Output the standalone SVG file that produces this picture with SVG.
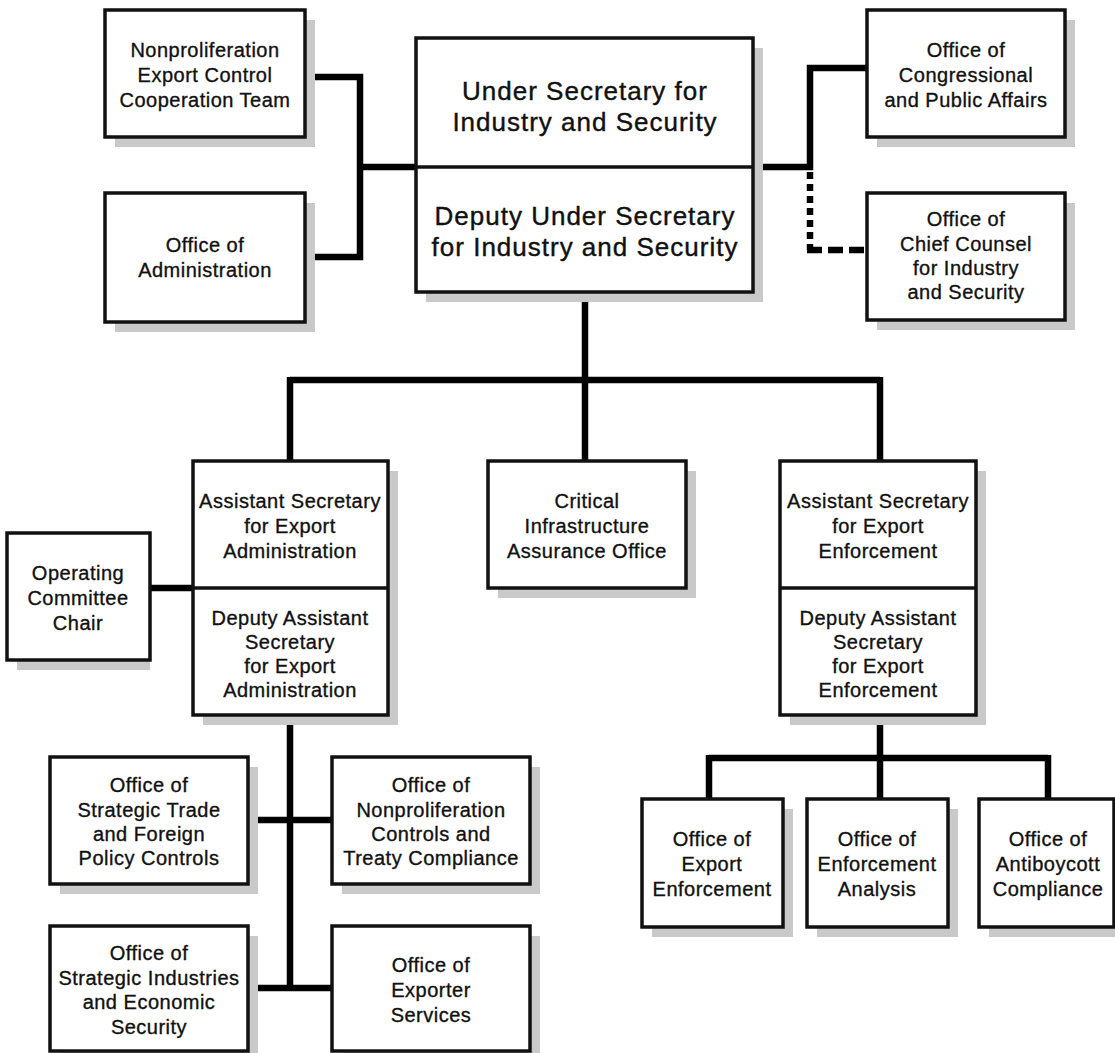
<svg xmlns="http://www.w3.org/2000/svg" width="1115" height="1053" viewBox="0 0 1115 1053">
<style>
.sh{fill:#c9c9c9}
.bx{fill:#fff;stroke:#111;stroke-width:3.5}
.dv{stroke:#111;stroke-width:3.5}
text{font-family:"Liberation Sans",Arial,Helvetica,sans-serif;font-size:20px;letter-spacing:0.5px;fill:#111;stroke:#111;stroke-width:0.35;text-anchor:middle}
text.big{font-size:26px;letter-spacing:1px;stroke-width:0.4}
.ln{fill:none;stroke:#000;stroke-width:6.5;stroke-linejoin:miter;stroke-linecap:butt}
</style>
<rect width="1115" height="1053" fill="#fff"/>
<g id="connectors">
<path class="ln" d="M305,77 H360 V257 H305 M360,167 H416"/>
<path class="ln" d="M753,167 H810 V68 H867"/>
<path class="ln" d="M810,172 V250" stroke-dasharray="7 5"/>
<path class="ln" d="M807,250 H867" stroke-dasharray="15 6"/>
<path class="ln" d="M585,292 V380 M290,380 H880 M290,377 V461 M585,380 V461 M880,377 V461"/>
<path class="ln" d="M150,588 H193"/>
<path class="ln" d="M290,715 V991 M248,820 H332 M248,988 H332"/>
<path class="ln" d="M880,715 V758 M709,758 H1048 M709,755 V799 M880,758 V799 M1048,755 V799"/>
</g>
<g id="nect"><rect class="sh" x="115" y="20" width="200" height="127"/><rect class="bx" x="105" y="10" width="200" height="127"/>
<text x="205" y="57">Nonproliferation</text><text x="205" y="82">Export Control</text><text x="205" y="107">Cooperation Team</text></g>
<g id="admin"><rect class="sh" x="115" y="203" width="200" height="129"/><rect class="bx" x="105" y="193" width="200" height="129"/>
<text x="205" y="252">Office of</text><text x="205" y="277">Administration</text></g>
<g id="main"><rect class="sh" x="426" y="48" width="337" height="254"/><rect class="bx" x="416" y="38" width="337" height="254"/>
<line class="dv" x1="416" y1="167" x2="753" y2="167"/>
<text class="big" x="585" y="100">Under Secretary for</text><text class="big" x="585" y="131">Industry and Security</text>
<text class="big" x="585" y="225">Deputy Under Secretary</text><text class="big" x="585" y="256">for Industry and Security</text></g>
<g id="congress"><rect class="sh" x="877" y="20" width="198" height="127"/><rect class="bx" x="867" y="10" width="198" height="127"/>
<text x="966" y="57">Office of</text><text x="966" y="82">Congressional</text><text x="966" y="107">and Public Affairs</text></g>
<g id="counsel"><rect class="sh" x="877" y="203" width="198" height="127"/><rect class="bx" x="867" y="193" width="198" height="127"/>
<text x="966" y="226">Office of</text><text x="966" y="251">Chief Counsel</text><text x="966" y="275">for Industry</text><text x="966" y="299">and Security</text></g>
<g id="asst-ea"><rect class="sh" x="203" y="471" width="195" height="254"/><rect class="bx" x="193" y="461" width="195" height="254"/>
<line class="dv" x1="193" y1="588" x2="388" y2="588"/>
<text x="290" y="508">Assistant Secretary</text><text x="290" y="533">for Export</text><text x="290" y="558">Administration</text>
<text x="290" y="625">Deputy Assistant</text><text x="290" y="649">Secretary</text><text x="290" y="673">for Export</text><text x="290" y="697">Administration</text></g>
<g id="occ"><rect class="sh" x="17" y="543" width="133" height="127"/><rect class="bx" x="7" y="533" width="143" height="127"/>
<text x="78" y="580">Operating</text><text x="78" y="605">Committee</text><text x="78" y="630">Chair</text></g>
<g id="ciao"><rect class="sh" x="498" y="471" width="198" height="127"/><rect class="bx" x="488" y="461" width="198" height="127"/>
<text x="587" y="508">Critical</text><text x="587" y="533">Infrastructure</text><text x="587" y="558">Assurance Office</text></g>
<g id="asst-ee"><rect class="sh" x="790" y="471" width="196" height="254"/><rect class="bx" x="780" y="461" width="196" height="254"/>
<line class="dv" x1="780" y1="588" x2="976" y2="588"/>
<text x="878" y="508">Assistant Secretary</text><text x="878" y="533">for Export</text><text x="878" y="558">Enforcement</text>
<text x="878" y="625">Deputy Assistant</text><text x="878" y="649">Secretary</text><text x="878" y="673">for Export</text><text x="878" y="697">Enforcement</text></g>
<g id="oee"><rect class="sh" x="652" y="809" width="141" height="128"/><rect class="bx" x="642" y="799" width="141" height="128"/>
<text x="712" y="846">Office of</text><text x="712" y="871">Export</text><text x="712" y="896">Enforcement</text></g>
<g id="oea"><rect class="sh" x="817" y="809" width="141" height="128"/><rect class="bx" x="807" y="799" width="141" height="128"/>
<text x="877" y="846">Office of</text><text x="877" y="871">Enforcement</text><text x="877" y="896">Analysis</text></g>
<g id="oac"><rect class="sh" x="989" y="809" width="135" height="128"/><rect class="bx" x="979" y="799" width="135" height="128"/>
<text x="1048" y="846">Office of</text><text x="1048" y="871">Antiboycott</text><text x="1048" y="896">Compliance</text></g>
<g id="ostfpc"><rect class="sh" x="60" y="767" width="198" height="127"/><rect class="bx" x="50" y="757" width="198" height="127"/>
<text x="149" y="792">Office of</text><text x="149" y="817">Strategic Trade</text><text x="149" y="841">and Foreign</text><text x="149" y="865">Policy Controls</text></g>
<g id="onctc"><rect class="sh" x="342" y="767" width="198" height="127"/><rect class="bx" x="332" y="757" width="198" height="127"/>
<text x="431" y="792">Office of</text><text x="431" y="817">Nonproliferation</text><text x="431" y="841">Controls and</text><text x="431" y="865">Treaty Compliance</text></g>
<g id="osies"><rect class="sh" x="60" y="936" width="198" height="125"/><rect class="bx" x="50" y="926" width="198" height="125"/>
<text x="149" y="960">Office of</text><text x="149" y="985">Strategic Industries</text><text x="149" y="1009">and Economic</text><text x="149" y="1034">Security</text></g>
<g id="oes"><rect class="sh" x="342" y="936" width="198" height="125"/><rect class="bx" x="332" y="926" width="198" height="125"/>
<text x="431" y="972">Office of</text><text x="431" y="997">Exporter</text><text x="431" y="1022">Services</text></g>
</svg>
